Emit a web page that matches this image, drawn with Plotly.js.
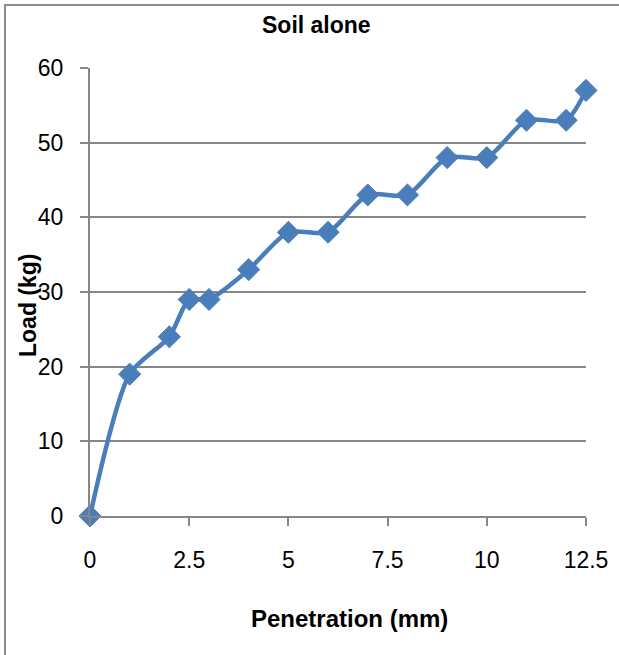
<!DOCTYPE html>
<html>
<head>
<meta charset="utf-8">
<script src="https://cdn.plot.ly/plotly-3.0.1.min.js"></script>
<style>
html,body{margin:0;padding:0;background:#fff;}
#wrap{position:relative;width:619px;height:655px;overflow:hidden;}
#frame{position:absolute;left:4px;top:4px;width:700px;height:700px;border-left:2px solid #8c8c8c;border-top:2px solid #8c8c8c;pointer-events:none;}
#chart{position:absolute;left:0;top:0;width:619px;height:655px;}
</style>
</head>
<body>
<div id="wrap"><div id="chart"></div><div id="frame"></div></div>
<script>
const penetration = [0, 1, 2, 2.5, 3, 4, 5, 6, 7, 8, 9, 10, 11, 12, 12.5];
const load = [0, 19, 24, 29, 29, 33, 38, 38, 43, 43, 48, 48, 53, 53, 57];
const xTicks = [0, 2.5, 5, 7.5, 10, 12.5];
const yTicks = [0, 10, 20, 30, 40, 50, 60];
const chartTitle = "Soil alone";
const xTitle = "Penetration (mm)";
const yTitle = "Load (kg)";

const fam = "Liberation Sans, Arial, sans-serif";
const tickFont = {family: fam, size: 23, color: "#000"};

const trace = {
  x: penetration,
  y: load,
  type: "scatter",
  mode: "lines+markers",
  line: {color: "#4A7EBB", width: 4.5, shape: "spline", smoothing: 0.7},
  marker: {symbol: "diamond", size: 17, color: "#4A7EBB", line: {color: "#4A7EBB", width: 1}},
  cliponaxis: false,
  hoverinfo: "skip"
};

const layout = {
  width: 619,
  height: 655,
  margin: {l: 90, r: 33, t: 68, b: 139},
  paper_bgcolor: "#fff",
  plot_bgcolor: "#fff",
  showlegend: false,
  xaxis: {
    range: [0, 12.5],
    tickvals: xTicks,
    ticktext: xTicks.map(String),
    showgrid: false,
    zeroline: false,
    showline: true,
    linecolor: "#868686",
    linewidth: 2,
    ticks: "outside",
    ticklen: 8,
    tickwidth: 2,
    tickcolor: "#868686",
    tickfont: tickFont,
    ticklabelstandoff: 14
  },
  yaxis: {
    range: [0, 60],
    tickvals: yTicks,
    ticktext: yTicks.map(String),
    showgrid: true,
    gridcolor: "#868686",
    gridwidth: 2,
    zeroline: false,
    showline: true,
    linecolor: "#868686",
    linewidth: 2,
    ticks: "outside",
    ticklen: 8,
    tickwidth: 2,
    tickcolor: "#868686",
    tickfont: tickFont,
    ticklabelstandoff: 12
  },
  annotations: [
    {text: "<b>" + chartTitle + "</b>", xref: "paper", yref: "paper", x: (316 - 90) / 496, y: 1 + (68 - 25) / 448,
     xanchor: "center", yanchor: "middle", showarrow: false, font: {family: fam, size: 23, color: "#000"}},
    {text: "<b>" + xTitle + "</b>", xref: "paper", yref: "paper", x: (349 - 90) / 496, y: -(618 - 516) / 448,
     xanchor: "center", yanchor: "middle", showarrow: false, font: {family: fam, size: 24, color: "#000"}},
    {text: "<b>" + yTitle + "</b>", xref: "paper", yref: "paper", x: -(90 - 28) / 496, y: (516 - 305) / 448,
     xanchor: "center", yanchor: "middle", textangle: -90, showarrow: false, font: {family: fam, size: 23, color: "#000"}}
  ]
};

Plotly.newPlot("chart", [trace], layout, {staticPlot: true, displayModeBar: false});
</script>
</body>
</html>
